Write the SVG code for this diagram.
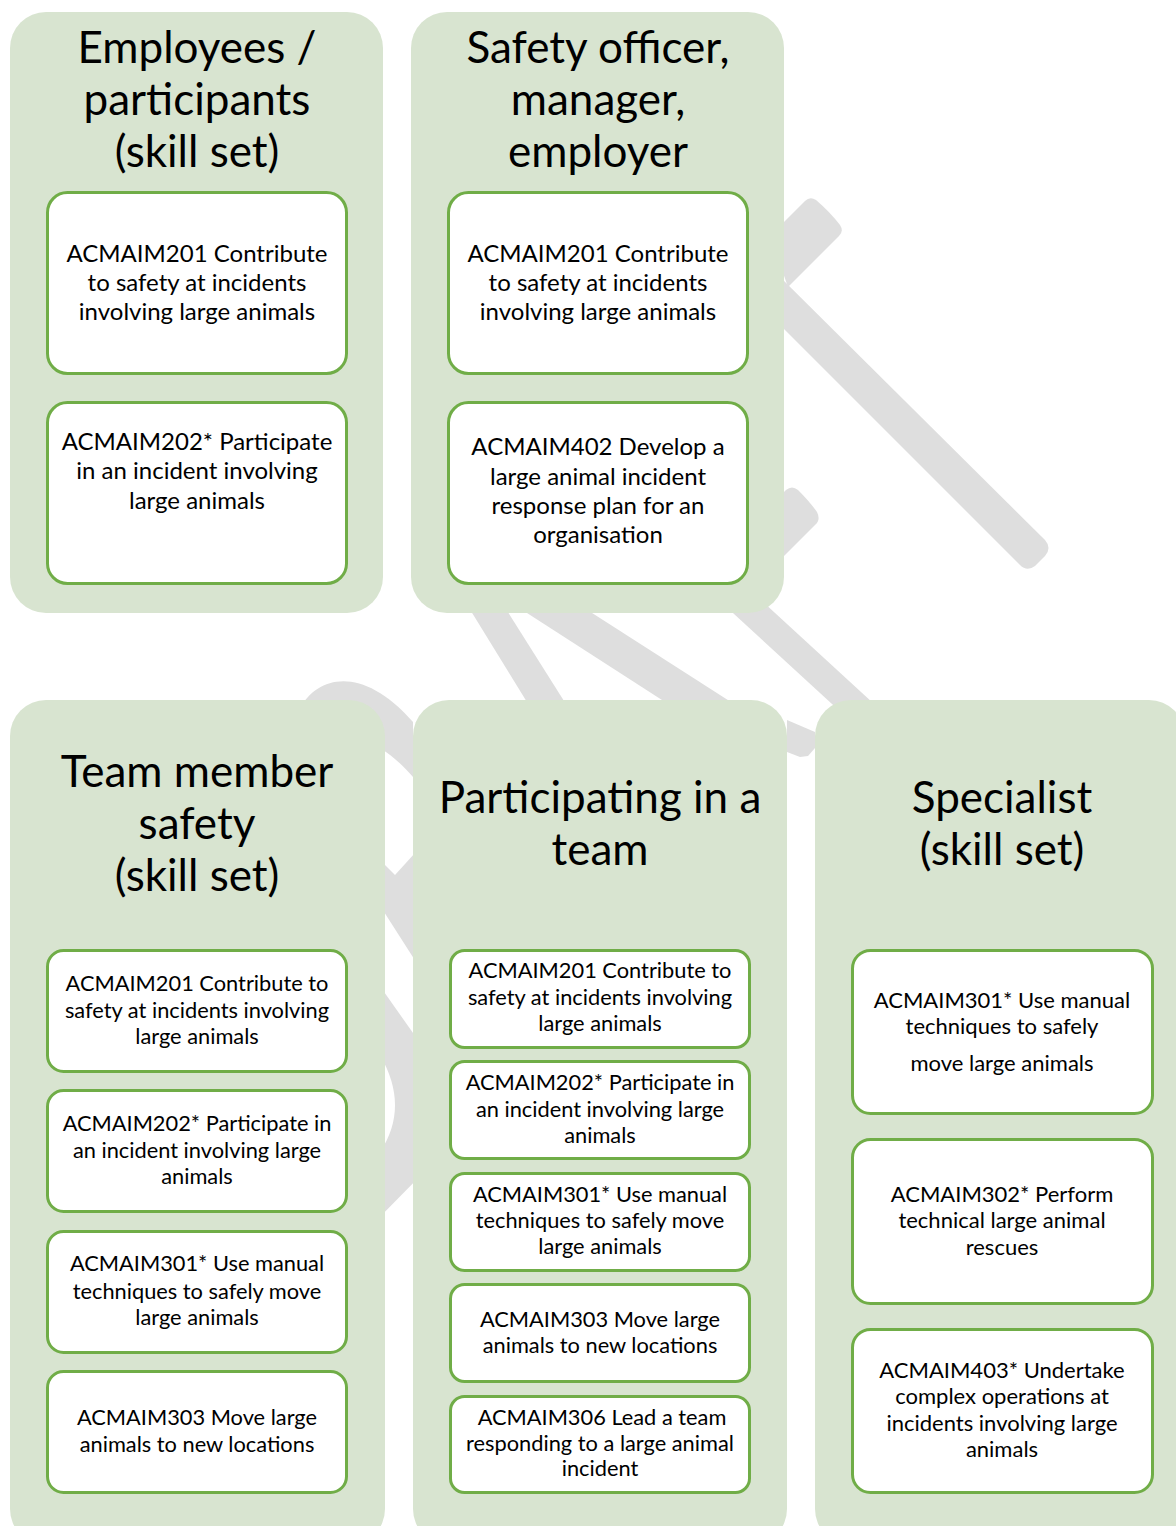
<svg xmlns="http://www.w3.org/2000/svg" width="1176" height="1526" viewBox="0 0 1176 1526">
<style>
.panel{fill:#D8E4D0;}
.box{fill:#FFFFFF;stroke:#70AD47;stroke-width:3;}
.wm{fill:#DEDEDE;}
text{font-family:Lato,"Liberation Sans",sans-serif;fill:#000;text-anchor:middle;}
.title{font-size:44px;}
.t24{font-size:24px;}
.t21{font-size:21.8px;}
.t22{font-size:22px;}
</style>
<rect x="0" y="0" width="1176" height="1526" fill="#FFFFFF"/>
<g id="watermark">
<path class="wm" d="M770,267 L1045,540 Q1052,548 1045,556 L1035,566 Q1027,572 1020,565 L770,315 Z"/>
<path class="wm" d="M770,236 L805,201 Q810,196 816,200 Q830,212 840,225 Q844,231 839,236 L788,287 Z"/>
<path class="wm" d="M770,506 L786,490 Q792,485 798,490 Q810,502 817,512 Q821,520 815,525 L770,570 Z"/>
<polygon class="wm" points="458,590 494,590 576,720 538,720"/>
<polygon class="wm" points="499,595 564,595 759,720 693,720"/>
<polygon class="wm" points="697,580 739,580 935,760 893,760"/>
<polygon class="wm" points="787,720 815,732 815,748 808,756 800,757 787,752"/>
<path class="wm" d="M300,708 C318,676 362,664 413,722 L413,777 C390,750 350,720 310,745 Z"/>
<polygon class="wm" points="370,850 395,875 425,842 425,976 370,890"/>
<path class="wm" d="M370,972 L425,1050 L425,1171 L370,1227 L380,1152 Q410,1107 380,1055 Z"/>
</g>
<g id="connectors"></g>
<g id="employees">
<rect class="panel" x="10" y="12" width="373" height="601" rx="36"/>
<text class="title" x="197" y="63">Employees /</text>
<text class="title" x="197" y="115">participants</text>
<text class="title" x="197" y="167">(skill set)</text>
<g id="emp-201">
<rect class="box" x="47.5" y="192.5" width="299" height="181" rx="20"/>
<text class="t24" x="197" y="262">ACMAIM201 Contribute</text>
<text class="t24" x="197" y="291">to safety at incidents</text>
<text class="t24" x="197" y="320">involving large animals</text>
</g>
<g id="emp-202">
<rect class="box" x="47.5" y="402.5" width="299" height="181" rx="20"/>
<text class="t24" x="197" y="450">ACMAIM202* Participate</text>
<text class="t24" x="197" y="479">in an incident involving</text>
<text class="t24" x="197" y="509">large animals</text>
</g>
</g>
<g id="safety-officer">
<rect class="panel" x="411" y="12" width="373" height="601" rx="36"/>
<text class="title" x="598" y="63">Safety officer,</text>
<text class="title" x="598" y="115">manager,</text>
<text class="title" x="598" y="167">employer</text>
<g id="so-201">
<rect class="box" x="448.5" y="192.5" width="299" height="181" rx="20"/>
<text class="t24" x="598" y="262">ACMAIM201 Contribute</text>
<text class="t24" x="598" y="291">to safety at incidents</text>
<text class="t24" x="598" y="320">involving large animals</text>
</g>
<g id="so-402">
<rect class="box" x="448.5" y="402.5" width="299" height="181" rx="20"/>
<text class="t24" x="598" y="455">ACMAIM402 Develop a</text>
<text class="t24" x="598" y="485">large animal incident</text>
<text class="t24" x="598" y="514">response plan for an</text>
<text class="t24" x="598" y="543">organisation</text>
</g>
</g>
<g id="team-member">
<rect class="panel" x="10" y="700" width="375" height="845" rx="36"/>
<text class="title" x="197" y="787">Team member</text>
<text class="title" x="197" y="839">safety</text>
<text class="title" x="197" y="891">(skill set)</text>
<g id="tm-201">
<rect class="box" x="47.5" y="950.5" width="299" height="121" rx="16"/>
<text class="t21" x="197" y="991">ACMAIM201 Contribute to</text>
<text class="t21" x="197" y="1018">safety at incidents involving</text>
<text class="t21" x="197" y="1044">large animals</text>
</g>
<g id="tm-202">
<rect class="box" x="47.5" y="1090.5" width="299" height="121" rx="16"/>
<text class="t21" x="197" y="1131">ACMAIM202* Participate in</text>
<text class="t21" x="197" y="1158">an incident involving large</text>
<text class="t21" x="197" y="1184">animals</text>
</g>
<g id="tm-301">
<rect class="box" x="47.5" y="1231.5" width="299" height="121" rx="16"/>
<text class="t21" x="197" y="1271">ACMAIM301* Use manual</text>
<text class="t21" x="197" y="1299">techniques to safely move</text>
<text class="t21" x="197" y="1325">large animals</text>
</g>
<g id="tm-303">
<rect class="box" x="47.5" y="1371.5" width="299" height="121" rx="16"/>
<text class="t21" x="197" y="1425">ACMAIM303 Move large</text>
<text class="t21" x="197" y="1452">animals to new locations</text>
</g>
</g>
<g id="team">
<rect class="panel" x="413" y="700" width="374" height="845" rx="36"/>
<text class="title" x="600" y="813">Participating in a</text>
<text class="title" x="600" y="865">team</text>
<g id="pt-201">
<rect class="box" x="450.5" y="950.5" width="299" height="97" rx="14"/>
<text class="t21" x="600" y="978">ACMAIM201 Contribute to</text>
<text class="t21" x="600" y="1005">safety at incidents involving</text>
<text class="t21" x="600" y="1031">large animals</text>
</g>
<g id="pt-202">
<rect class="box" x="450.5" y="1061.5" width="299" height="97" rx="14"/>
<text class="t21" x="600" y="1090">ACMAIM202* Participate in</text>
<text class="t21" x="600" y="1117">an incident involving large</text>
<text class="t21" x="600" y="1143">animals</text>
</g>
<g id="pt-301">
<rect class="box" x="450.5" y="1173.5" width="299" height="97" rx="14"/>
<text class="t21" x="600" y="1202">ACMAIM301* Use manual</text>
<text class="t21" x="600" y="1228">techniques to safely move</text>
<text class="t21" x="600" y="1254">large animals</text>
</g>
<g id="pt-303">
<rect class="box" x="450.5" y="1284.5" width="299" height="97" rx="14"/>
<text class="t21" x="600" y="1327">ACMAIM303 Move large</text>
<text class="t21" x="600" y="1353">animals to new locations</text>
</g>
<g id="pt-306">
<rect class="box" x="450.5" y="1396.5" width="299" height="96" rx="14"/>
<text class="t21" x="602" y="1425">ACMAIM306 Lead a team</text>
<text class="t21" x="600" y="1451">responding to a large animal</text>
<text class="t21" x="600" y="1476">incident</text>
</g>
</g>
<g id="specialist">
<rect class="panel" x="815" y="700" width="370" height="845" rx="36"/>
<text class="title" x="1002" y="813">Specialist</text>
<text class="title" x="1002" y="865">(skill set)</text>
<g id="sp-301">
<rect class="box" x="852.5" y="950.5" width="300" height="163" rx="18"/>
<text class="t22" x="1002" y="1008">ACMAIM301* Use manual</text>
<text class="t22" x="1002" y="1034">techniques to safely</text>
<text class="t22" x="1002" y="1071">move large animals</text>
</g>
<g id="sp-302">
<rect class="box" x="852.5" y="1139.5" width="300" height="164" rx="18"/>
<text class="t22" x="1002" y="1202">ACMAIM302* Perform</text>
<text class="t22" x="1002" y="1228">technical large animal</text>
<text class="t22" x="1002" y="1255">rescues</text>
</g>
<g id="sp-403">
<rect class="box" x="852.5" y="1329.5" width="300" height="163" rx="18"/>
<text class="t22" x="1002" y="1378">ACMAIM403* Undertake</text>
<text class="t22" x="1002" y="1404">complex operations at</text>
<text class="t22" x="1002" y="1431">incidents involving large</text>
<text class="t22" x="1002" y="1457">animals</text>
</g>
</g>
</svg>
